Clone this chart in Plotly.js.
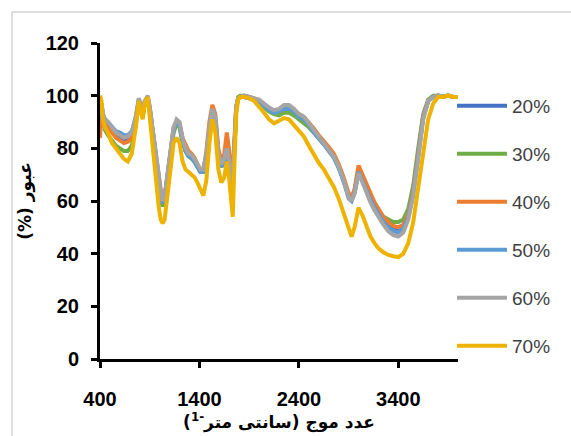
<!DOCTYPE html>
<html>
<head>
<meta charset="utf-8">
<script src="https://cdn.plot.ly/plotly-3.0.1.min.js"></script>
<style>html,body{margin:0;padding:0;background:#fff;}#chart{width:571px;height:436px;}</style>
</head>
<body>
<div id="chart"></div>
<script>
const wavenumber = [400,415,430,450,480,520,560,600,640,680,720,760,790,810,830,850,880,900,930,960,990,1010,1030,1050,1080,1110,1140,1170,1200,1230,1260,1290,1320,1350,1380,1410,1440,1470,1500,1530,1560,1590,1620,1650,1675,1700,1720,1735,1750,1770,1790,1810,1850,1900,1950,2000,2050,2100,2150,2200,2250,2300,2350,2400,2450,2500,2550,2600,2650,2700,2750,2800,2850,2900,2930,2960,3000,3040,3080,3120,3160,3200,3250,3300,3350,3400,3450,3500,3550,3600,3650,3700,3750,3800,3850,3900,3950,4000];

const t20 = [90,96,92,90,89,87,85,84,83,83.5,85,91,98,96,93,97.5,99.5,95,86,78,68,62,59.5,61.5,70,79,87,90,89,83,79,77,76.5,75,73,71,71,77,87,94.5,91,77,73,75,80,74,67,65,79,95.5,99,99.5,99.5,99,98.5,97.5,96,94.5,93.5,94,95,95,94,92.5,91,89,86.5,84,82,79.5,77,73,68,62,61,63.5,71.5,68,64,61,58,55.5,53,51,50,49.5,50.5,55,64,78,92,98,99.5,100,99.5,100,99.5,99.5];
const t30 = [88,94,90,87,85,83,81,80,79,79,81,89,97,95,92,97,99,94,85,76,66,60,58,60,68,78,86,89,88,82,79,77,76,75,73,71,71,77,87,94,91,77,73,75,79,73,66,64,78,95,99.5,100,100,99.5,98.5,97.5,95.5,94,93,92.5,93.5,93.5,92.5,91,89.5,88,86,84,82,79.5,77,73,68,62,61,64,72,68.5,64.5,61.5,58.5,56,54,53,52,52,53,57,66,80,93,98.5,100,100,99.5,100,99.5,99.5];
const t40 = [84,95,91,89,88,86,84,83,82,82.5,84,91,98,96,93,97,99.5,95,86,78,68,62,59,61,70,80,88,90,89,84,81,79,78,76.5,74,72,72,79,90,96.5,93,80,75,78,86,79,70,68,82,96,99,99.5,100,99.5,99,98,96.5,95,94,94.5,95.5,95.5,94.5,93,92,90,87.5,85,83,80.5,78,74,69,63,61.5,64.5,73.5,70,66,62.5,59.5,57,54,52,50.5,50,51,55,64,78,92,98,99.5,100,99.5,100,99.5,99.5];
const t50 = [91,97,93,91,90,88,86.5,86,85,85,86.5,92,98.5,96.5,93.5,97.5,99.5,95.5,87,79,69,62,59,61,70,79,87,90,89,83,79,77,76.5,75,73,71,71,77,87,94.5,91,77,73,75,80,74,67,65,79,95.5,99,99.5,99.5,99,98.5,97.5,96,94.5,93.5,94,95,95,94,92,91,89,86,84,81.5,79,76.5,72.5,67.5,61,60,63,71,67.5,63.5,60.5,57.5,55,52,50,48.5,48,49.5,54,63,77,91.5,98,99.5,100,99.5,100,99.5,99.5];
const t60 = [92,97,93,91,90,88,86,85,84,84.5,86,92,99,97,94,98,100,96,88,80,70,63,60,62,70,80,88,91,90,84,80,78,77.5,76,74,72,72,78,88,95,92,78,74,76,80,75,68,66,80,96,99,99.5,100,99.5,99,98.5,97,95.5,94.5,95,96.5,96.5,95,93,92,89.5,86.5,84,82,79.5,77,73,68,61.5,60,63,70.5,67,63,59.5,56.5,54,51,48.5,47,46.5,48,53,62,76,91,98,99.5,100,99.5,100,99.5,99.5];
const t70 = [100,98,91,88,86,82,80,78,76,75,78,88,98,94,91,97,99.5,92,80,68,58,53,51.5,53,62,74,82,84,82,75,72,71,70,69,67,64,62,68,82,91,86,72,67,69,75,68,58,54,72,93,98.5,99.5,99.5,99,98,96,93.5,91,89.5,90.5,91.5,91,89,86.5,84.5,81,77.5,74.5,72,69,65.5,61,55.5,49,46.5,50,57.5,54.5,50,46.5,44,42,40.5,39.5,39,38.7,40,44,52,65,80,91,97,99.5,99.5,100,99.5,99.5];

const seriesNames = ["20%","30%","40%","50%","60%","70%"];
const seriesValues = [t20,t30,t40,t50,t60,t70];
const seriesColors = ["#4472C4","#70AD47","#ED7D31","#5B9BD5","#A5A5A5","#EEB200"];
const xTicks = [400,1400,2400,3400];
const xTitle = "\u202Bعدد موج (سانتی متر<sup>-1</sup>)\u202C";
const yTitle = "\u202Bعبور (%)\u202C";

const traces = seriesNames.map((n,i)=>({
  type:"scatter", mode:"lines", name:n, x:wavenumber, y:seriesValues[i],
  legendgroup:"g"+i,
  line:{color:seriesColors[i], width:4}
}));

const tickFont = {family:"Liberation Sans, Arial, sans-serif", size:20, color:"#000", weight:"bold"};
const layout = {
  width:571, height:436,
  margin:{l:100, r:113, t:43, b:77},
  paper_bgcolor:"#fff", plot_bgcolor:"#fff",
  showlegend:true,
  legend:{xref:"paper", yref:"paper", x:(452-100)/358, y:(359-87)/316, xanchor:"left", yanchor:"top",
    font:{family:"Liberation Sans, Arial, sans-serif", size:19, color:"#404040"},
    traceorder:"grouped", tracegroupgap:20.3, itemwidth:50, maxheight:420, bgcolor:"rgba(0,0,0,0)"},
  xaxis:{range:[400,4000], tickvals:xTicks, ticktext:xTicks.map(String), showline:true, linecolor:"#000", linewidth:3,
    ticks:"outside", ticklen:6, tickwidth:3, tickcolor:"#000", showgrid:false, zeroline:false,
    tickfont:tickFont, ticklabelstandoff:14,
    title:{text:xTitle, font:{family:"DejaVu Sans, Noto Sans, sans-serif", size:17, color:"#000", weight:"bold"}, standoff:4}},
  yaxis:{range:[0,120], dtick:20, tick0:0, showline:true, linecolor:"#000", linewidth:3,
    ticks:"outside", ticklen:6, tickwidth:3, tickcolor:"#000", showgrid:false, zeroline:false,
    tickfont:tickFont, ticklabelstandoff:8,
    title:{text:yTitle, font:{family:"DejaVu Sans, Noto Sans, sans-serif", size:17, color:"#000", weight:"bold"}, standoff:10}},
  shapes:[{type:"rect", xref:"paper", yref:"paper", x0:(12-100)/358, x1:(580-100)/358, y0:(359-445)/316, y1:(359-12)/316,
    line:{color:"#bfbfbf", width:1}, fillcolor:"rgba(0,0,0,0)", layer:"below"}]
};
Plotly.newPlot("chart", traces, layout, {displayModeBar:false, staticPlot:true});
</script>
</body>
</html>
